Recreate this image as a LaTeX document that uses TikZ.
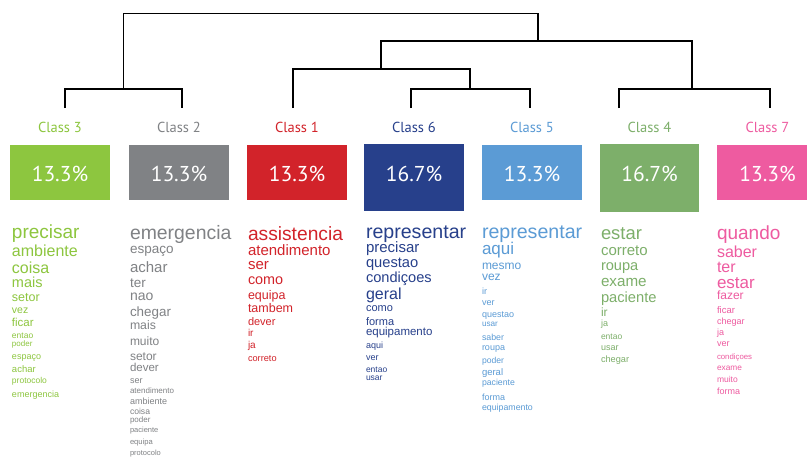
\documentclass[tikz,border=0pt]{standalone}
\usepackage{fontspec}
\setmainfont{Liberation Sans}
\newfontfamily\labfont{PT Sans}
\definecolor{cthree}{HTML}{8DC63F}
\definecolor{ctwo}{HTML}{808285}
\definecolor{cone}{HTML}{D2232A}
\definecolor{csix}{HTML}{27408B}
\definecolor{cfive}{HTML}{5B9BD5}
\definecolor{cfour}{HTML}{7DAF6A}
\definecolor{cseven}{HTML}{EE5BA0}
\tikzset{
  word/.style={inner sep=0pt, outer sep=0pt, anchor=base west},
  classlab/.style={font=\labfont\fontsize{14.5}{14.5}\selectfont, inner sep=0pt},
  pct/.style={font=\labfont\fontsize{21.5}{21.5}\selectfont, text=white, inner sep=0pt},
  cbox/.style={draw=none, inner sep=0pt, outer sep=0pt, minimum width=100pt, anchor=north west},
  dendro/.style={draw=black, line width=1.3pt},
}
\newcommand\wordcol[3]{%
  \foreach \wtext/\wsize/\wy [count=\wi] in {#3} {%
    \node[word, text=#1, font=\fontsize{\wsize}{\wsize}\selectfont] (#1w\wi) at (#2,\wy) {\wtext};
  }%
}
\begin{document}
\begin{tikzpicture}[x=1pt,y=-1pt]
\useasboundingbox (0,0) rectangle (807,469);
\clip (0,0) rectangle (807,469);
\fill[white] (0,0) rectangle (807,469);

% dendrogram coordinates
\coordinate (l3) at (65,108);
\coordinate (l2) at (182,108);
\coordinate (l1) at (293,108);
\coordinate (l6) at (411,108);
\coordinate (l5) at (530,108);
\coordinate (l4) at (619,108);
\coordinate (l7) at (770,108);
\coordinate (j32) at (123.5,89);
\coordinate (j65) at (470,89);
\coordinate (j47) at (692,89);
\coordinate (jB) at (381,69);
\coordinate (jA) at (538,41);
\coordinate (root) at (330,13.5);

\draw[dendro] (l3) |- (j32) -| (l2);
\draw[dendro] (l6) |- (j65) -| (l5);
\draw[dendro] (l4) |- (j47) -| (l7);
\draw[dendro] (l1) |- (jB) -| (j65);
\draw[dendro] (jB) |- (jA) -| (j47);
\draw[dendro] (j32) |- (root) -| (jA);

% boxes
\node[cbox, fill=cthree, minimum height=55pt] (b3) at (10,145) {};
\node[cbox, fill=ctwo, minimum height=55pt] (b2) at (129,145) {};
\node[cbox, fill=cone, minimum height=55pt] (b1) at (247,145) {};
\node[cbox, fill=csix, minimum height=67pt] (b6) at (364,144) {};
\node[cbox, fill=cfive, minimum height=55pt] (b5) at (482,145) {};
\node[cbox, fill=cfour, minimum height=68pt, minimum width=99pt] (b4) at (600,144) {};
\node[cbox, fill=cseven, minimum height=55pt, minimum width=101pt] (b7) at (717,145) {};

% class labels
\node[classlab, text=cthree] (k3) at (b3.center |- 0,127) {Class 3};
\node[classlab, text=ctwo] (k2) at (b2.center |- 0,127) {Class 2};
\node[classlab, text=cone] (k1) at (b1.center |- 0,127) {Class 1};
\node[classlab, text=csix] (k6) at (b6.center |- 0,127) {Class 6};
\node[classlab, text=cfive] (k5) at (b5.center |- 0,127) {Class 5};
\node[classlab, text=cfour] (k4) at (b4.center |- 0,127) {Class 4};
\node[classlab, text=cseven] (k7) at (b7.center |- 0,127) {Class 7};

% percentages
\node[pct] (p3) at (b3.center |- 0,174) {13.3\%};
\node[pct] (p2) at (b2.center |- 0,174) {13.3\%};
\node[pct] (p1) at (b1.center |- 0,174) {13.3\%};
\node[pct] (p6) at (b6.center |- 0,174) {16.7\%};
\node[pct] (p5) at (b5.center |- 0,174) {13.3\%};
\node[pct] (p4) at (b4.center |- 0,174) {16.7\%};
\node[pct] (p7) at (b7.center |- 0,174) {13.3\%};

% word lists
\wordcol{cthree}{12}{precisar/19/238, ambiente/16/256, coisa/16/273, mais/14.5/287, setor/12.5/301, vez/10.5/313, ficar/11.5/326, entao/8.5/338, poder/8/346.5, espaço/9/359, achar/9.5/372, protocolo/8.5/383, emergencia/9/397}
\wordcol{ctwo}{130}{emergencia/19.4/239, espaço/13.5/253, achar/15/272.5, ter/13.5/287, nao/14/300, chegar/13.4/316, mais/12.3/329, muito/12/345, setor/12/360, dever/11.5/371.5, ser/9/383, atendimento/8/393.5, ambiente/9/404, coisa/8.6/414, poder/8/422.5, paciente/7.5/432, equipa/7.6/444, protocolo/7.5/455}
\wordcol{cone}{248}{assistencia/19.2/240, atendimento/15/255.5, ser/15/269.5, como/14.4/284, equipa/12.5/299, tambem/12.5/312, dever/11/325, ir/10/336, ja/10/348, correto/9.2/361}
\wordcol{csix}{366}{representar/19.6/238, precisar/15/252.5, questao/14.7/267.5, condiçoes/14.6/282.5, geral/16/299, como/11/311, forma/11/325, equipamento/11.5/335.5, aqui/9/348, ver/9/360, entao/8.5/372.5, usar/8.5/380.5}
\wordcol{cfive}{482}{representar/19.6/238, aqui/17/254.5, mesmo/12/269, vez/12/280, ir/9/294, ver/9/305, questao/9/317, usar/8.2/326.5, saber/8.8/340.5, roupa/9/350.5, poder/8.6/363.5, geral/9.5/375, paciente/8.7/385.5, forma/9/400, equipamento/8.8/410.5}
\wordcol{cfour}{601}{estar/18.4/239.5, correto/15/255.5, roupa/14.6/270, exame/15.2/286.5, paciente/14.7/302.5, ir/12/316.5, ja/9/326, entao/8.5/339.5, usar/9/350.5, chegar/9.2/362}
\wordcol{cseven}{717}{quando/19/239, saber/16/257, ter/16/272, estar/17/288, fazer/12/299.5, ficar/9.5/313, chegar/9/324, ja/9/335, ver/9/346, condiçoes/7.8/359, exame/8.3/370.5, muito/8.5/382.5, forma/9/394.5}
\end{tikzpicture}
\end{document}
